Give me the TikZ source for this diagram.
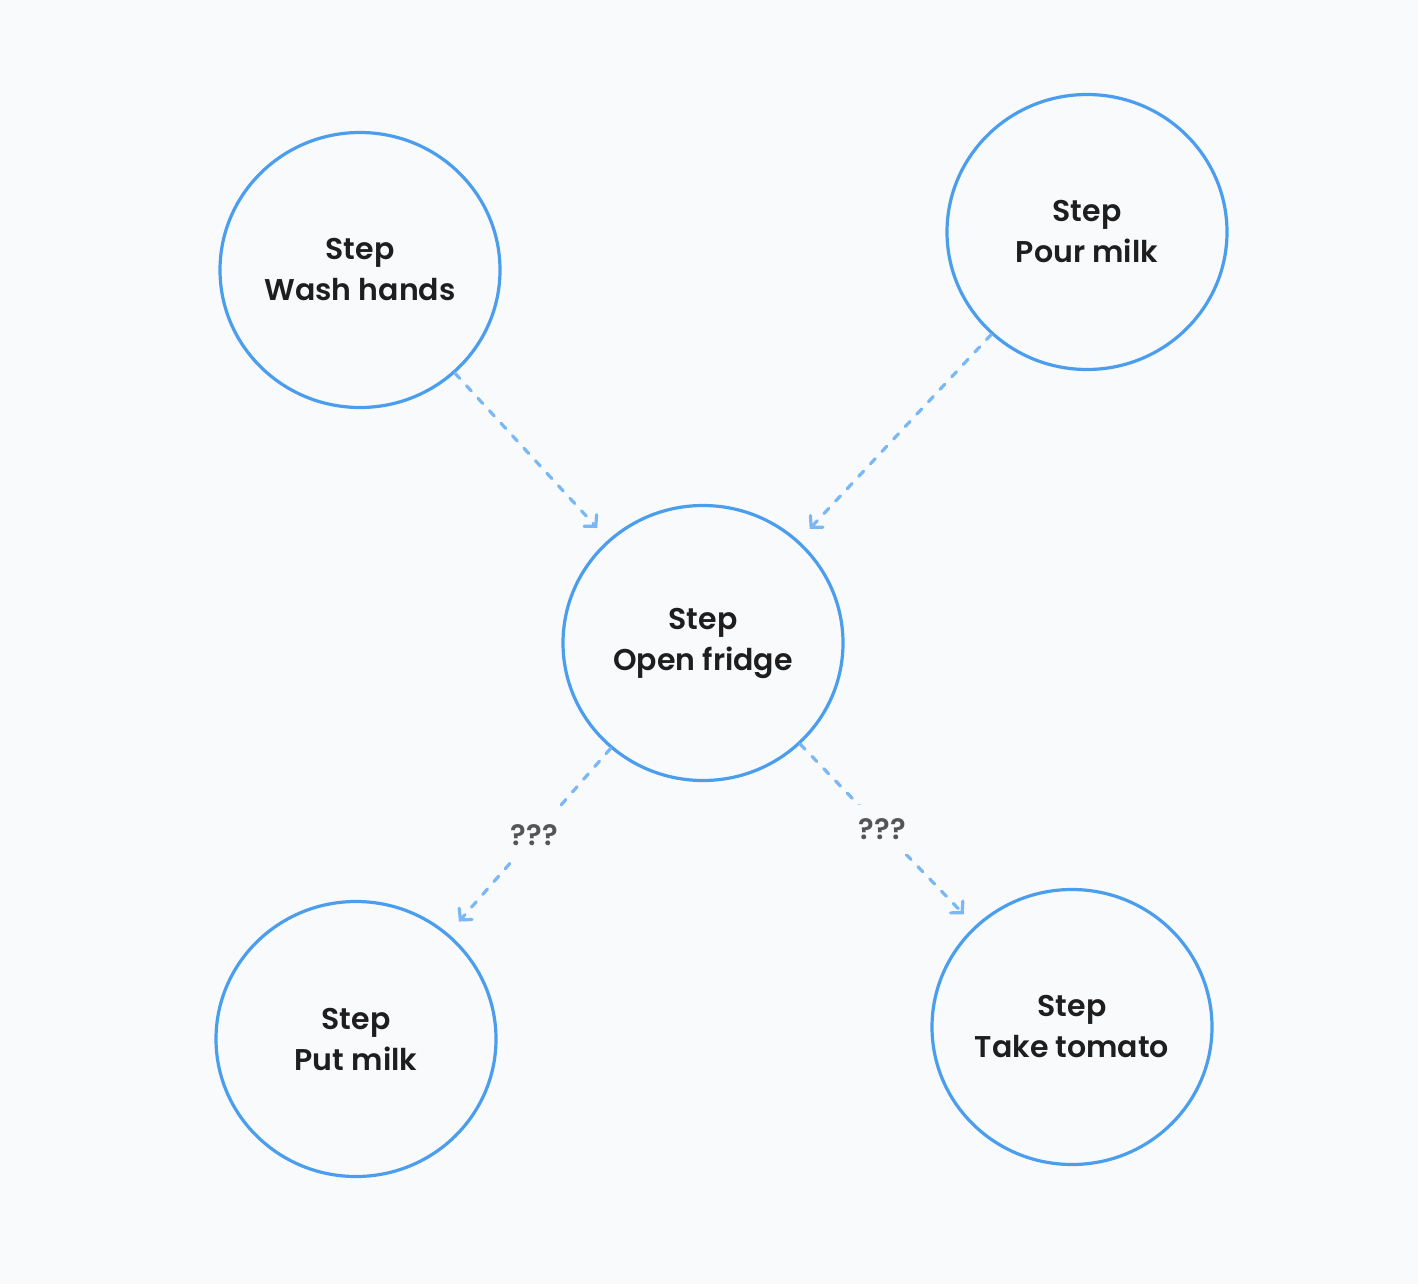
\documentclass[tikz,border=0pt]{standalone}
\usepackage{fontspec}
\setmainfont{Poppins}[BoldFont={* SemiBold}]
\usetikzlibrary{arrows.meta,shapes.geometric}
\definecolor{bg}{HTML}{F8FAFC}
\definecolor{ring}{HTML}{4A9EED}
\definecolor{link}{HTML}{7AB8F5}
\definecolor{ink}{HTML}{1E1E1E}
\definecolor{lbl}{HTML}{555555}
\tikzset{
  stepnode/.style={ellipse, draw=ring, line width=3.2pt, minimum width=280pt, minimum height=275pt,
    inner sep=0pt, align=center, text=ink, font=\fontsize{30}{41}\selectfont\bfseries},
  flow/.style={draw=link, line width=3.2pt, line cap=round, dash pattern=on 7pt off 10pt,
    -{Straight Barb[length=8pt,width=17pt,line width=3.2pt,line cap=round]}, shorten >=16pt},
  qlabel/.style={fill=bg, text=lbl, inner xsep=6pt, inner ysep=14pt, font=\fontsize{29}{32}\selectfont\bfseries}
}
\begin{document}
\begin{tikzpicture}[x=1pt,y=-1pt]
\fill[bg] (0,0) rectangle (1418,1284);
\useasboundingbox (0,0) rectangle (1418,1284);
\node[stepnode] (wash) at (360,270) {Step\\Wash hands};
\node[stepnode] (pour) at (1087,232) {Step\\Pour milk};
\node[stepnode] (fridge) at (703,643) {Step\\Open fridge};
\node[stepnode] (put) at (356,1039) {Step\\Put milk};
\node[stepnode] (tomato) at (1072,1027) {Step\\Take tomato};
\draw[flow] (wash) -- (fridge);
\draw[flow] (pour) -- (fridge);
\draw[flow] (fridge) -- node[qlabel, pos=0.47] (q1) {???} (put);
\draw[flow] (fridge) -- node[qlabel, pos=0.47] (q2) {???} (tomato);
\end{tikzpicture}
\end{document}
